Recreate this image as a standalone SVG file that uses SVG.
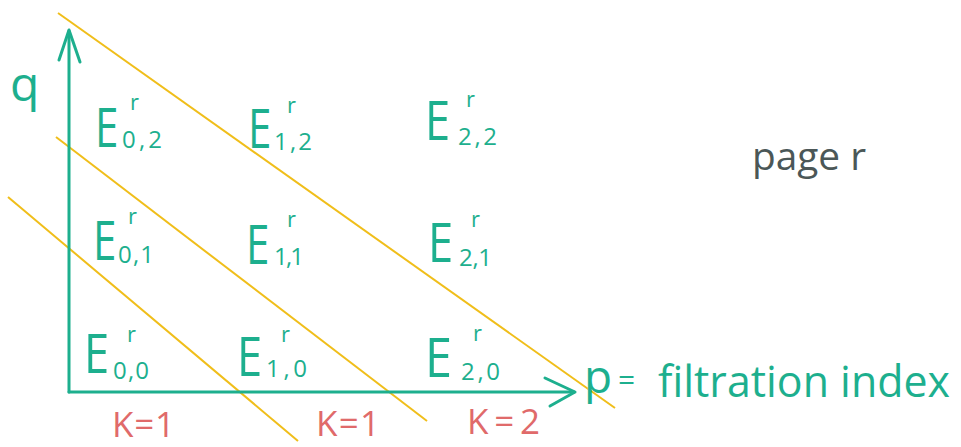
<svg xmlns="http://www.w3.org/2000/svg" width="961" height="447" viewBox="0 0 961 447">
<style>
.g{fill:#1DAF8E;font-family:"Open Sans","Noto Sans",sans-serif}
.E{font-size:54px}
.s{font-size:24px}
.r{font-size:22px}
.k{fill:#E06A6A;font-family:"Open Sans","Noto Sans",sans-serif;font-size:35px}
.ax{stroke:#1DAF8E;stroke-width:3;fill:none;stroke-linecap:round;stroke-linejoin:round}
.y{stroke:#F0BE1A;stroke-width:2;fill:none}
</style>
<rect width="961" height="447" fill="#fff"/>
<g id="connectors">
<line class="y" x1="58" y1="13" x2="615" y2="408"/>
<line class="y" x1="56" y1="137" x2="427" y2="421"/>
<line class="y" x1="8" y1="197" x2="298" y2="441"/>
<polyline class="ax" points="69,392 69,31"/>
<polyline class="ax" points="59,60 69,30 80,62"/>
<polyline class="ax" points="69,392 574,392"/>
<polyline class="ax" points="545,378 575,392 550,406"/>
</g>
<g id="q-label"><text class="g" x="10" y="101" font-size="48">q</text></g>
<g id="p-label">
<text class="g" x="584" y="393" font-size="46">p</text>
<text class="g" x="618" y="390" font-size="30">=</text>
<text class="g" x="658" y="397" font-size="43" textLength="292" lengthAdjust="spacingAndGlyphs">filtration index</text>
</g>
<g id="page-label"><text x="752" y="170" fill="#4B5757" font-family="Open Sans,Noto Sans,sans-serif" font-size="38" textLength="114" lengthAdjust="spacingAndGlyphs">page r</text></g>
<g id="E02"><text class="g E" transform="translate(95,147) scale(0.78,1)">E</text><text class="g r" x="130" y="110">r</text><text class="g s" x="122" y="148" textLength="40" lengthAdjust="spacing">0,2</text></g>
<g id="E12"><text class="g E" transform="translate(248,148) scale(0.78,1)">E</text><text class="g r" x="287" y="113">r</text><text class="g s" x="274" y="150" textLength="38" lengthAdjust="spacing">1,2</text></g>
<g id="E22"><text class="g E" transform="translate(425,140) scale(0.84,1)">E</text><text class="g r" x="466" y="107">r</text><text class="g s" x="458" y="145" textLength="39" lengthAdjust="spacing">2,2</text></g>
<g id="E01"><text class="g E" transform="translate(93,260) scale(0.78,1)">E</text><text class="g r" x="128" y="224">r</text><text class="g s" x="118" y="263" textLength="36" lengthAdjust="spacing">0,1</text></g>
<g id="E11"><text class="g E" transform="translate(246,264) scale(0.78,1)">E</text><text class="g r" x="287" y="227">r</text><text class="g s" x="274" y="265" textLength="30" lengthAdjust="spacing">1,1</text></g>
<g id="E21"><text class="g E" transform="translate(428,262) scale(0.84,1)">E</text><text class="g r" x="471" y="227">r</text><text class="g s" x="459" y="266" textLength="33" lengthAdjust="spacing">2,1</text></g>
<g id="E00"><text class="g E" transform="translate(84,373) scale(0.84,1)">E</text><text class="g r" x="127" y="342">r</text><text class="g s" x="113" y="379" textLength="36" lengthAdjust="spacing">0,0</text></g>
<g id="E10"><text class="g E" transform="translate(237,376) scale(0.84,1)">E</text><text class="g r" x="281" y="342">r</text><text class="g s" x="266" y="377" textLength="41" lengthAdjust="spacing">1,0</text></g>
<g id="E20"><text class="g E" transform="translate(425,377) scale(0.9,1)">E</text><text class="g r" x="473" y="341">r</text><text class="g s" x="461" y="380" textLength="39" lengthAdjust="spacing">2,0</text></g>
<g id="K1a"><text class="k" x="112" y="437" textLength="63" lengthAdjust="spacing">K = 1</text></g>
<g id="K1b"><text class="k" x="316" y="436" textLength="64" lengthAdjust="spacing">K = 1</text></g>
<g id="K2"><text class="k" x="467" y="434" textLength="73" lengthAdjust="spacing">K = 2</text></g>
</svg>
